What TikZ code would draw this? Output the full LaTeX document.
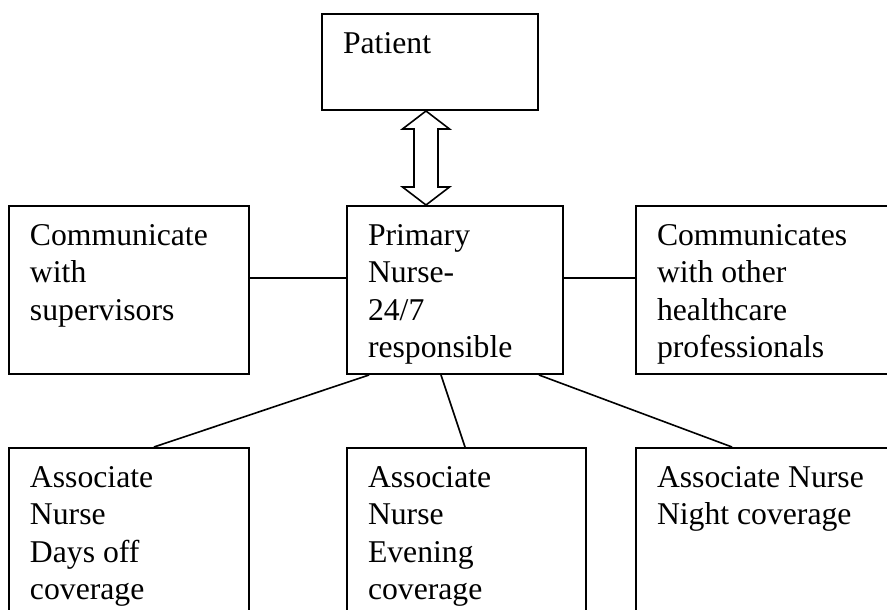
\documentclass[tikz,border=0pt]{standalone}
\usepackage{fontspec}
\setmainfont{Liberation Serif}
\usetikzlibrary{positioning}

\begin{document}
\begin{tikzpicture}[x=1pt, y=-1pt, node distance=72pt, line width=2pt,
  main/.style = {draw, rectangle, anchor=north west, inner sep=0pt},
  txt/.style = {anchor=north west, align=left, inner sep=0pt, xshift=21pt, yshift=-18.5pt, font=\fontsize{31.7}{37.5}\selectfont},
  link/.style = {line width=1.6pt}]
\useasboundingbox (0,0) rectangle (887,610);
\clip (0,0) rectangle (887,610);
\node[main, minimum width=216pt, minimum height=168pt, label={[txt]north west:{Primary\\Nurse-\\24/7\\responsible}}] (primary) at (346,205) {};
\node[main, minimum width=216pt, minimum height=96pt, label={[txt]north west:Patient}] (patient) at (321,13) {};
\node[main, minimum width=240pt, minimum height=168pt, left=96pt of primary.north west, anchor=north east, label={[txt]north west:{Communicate\\with\\supervisors}}] (super) {};
\node[main, minimum width=252pt, minimum height=168pt, right=71pt of primary.north east, anchor=north west, label={[txt]north west:{Communicates\\with other\\healthcare\\professionals}}] (others) {};
\node[main, minimum width=240pt, minimum height=200pt, below=of super.south west, anchor=north west, label={[txt]north west:{Associate\\Nurse\\Days off\\coverage}}] (daysoff) {};
\node[main, minimum width=239pt, minimum height=200pt, below=of primary.south west, anchor=north west, label={[txt]north west:{Associate\\Nurse\\Evening\\coverage}}] (evening) {};
\node[main, minimum width=252pt, minimum height=200pt, below=of others.south west, anchor=north west, label={[txt]north west:{Associate Nurse\\Night coverage}}] (night) {};
% double arrow between patient and primary nurse
\draw[link, line join=miter] ([xshift=-4pt]patient.south) -- ++(23.5,18) -- ++(-11.5,0) -- ([shift={(8pt,18pt)}]primary.north west -| patient.south) -- ++(11.5,0) -- ([xshift=-4pt]primary.north west -| patient.south) -- ++(-23.5,-18) -- ++(11.5,0) -- ([shift={(-16pt,-18pt)}]patient.south) -- ++(-11.5,0) -- cycle;
\draw[link] ([yshift=12pt]super.east) -- ([yshift=12pt]primary.west);
\draw[link] ([yshift=12pt]primary.east) -- ([yshift=12pt]others.west);
\draw[link] ([xshift=23pt]primary.south west) -- ([xshift=146pt]daysoff.north west);
\draw[link] ([xshift=95pt]primary.south west) -- ([xshift=119pt]evening.north west);
\draw[link] ([xshift=193pt]primary.south west) -- ([xshift=97pt]night.north west);
\end{tikzpicture}
\end{document}
